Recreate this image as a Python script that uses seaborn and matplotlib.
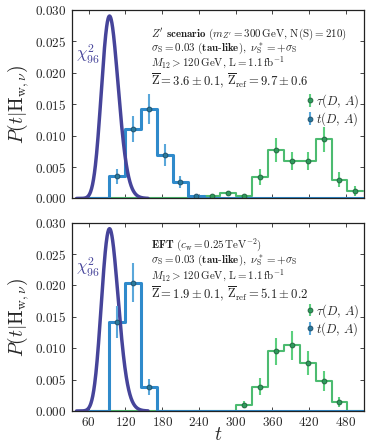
import math
import numpy as np
import matplotlib
matplotlib.use("Agg")
import matplotlib.pyplot as plt
import seaborn as sns

# bin edges (26 wide) shared by both panels
edges = [41, 67, 93, 119, 145, 171, 197, 223, 249, 275, 301, 327, 353, 379, 405, 431, 457, 483, 509]
centers = [(a + b) / 2 for a, b in zip(edges[:-1], edges[1:])]

# top panel: Z' scenario
zp_t = [0, 0, 0.0035, 0.0111, 0.0142, 0.0069, 0.0026, 0.0004, 0, 0, 0, 0, 0, 0, 0, 0, 0, 0]
zp_t_err = [0, 0, 0.0012, 0.0021, 0.0024, 0.0018, 0.0010, 0.0002, 0, 0, 0, 0, 0, 0, 0, 0, 0, 0]
zp_tau = [0, 0, 0, 0, 0, 0, 0, 0, 0.0004, 0.0009, 0.0004, 0.0034, 0.0077, 0.0060, 0.0060, 0.0094, 0.0030, 0.0012]
zp_tau_err = [0, 0, 0, 0, 0, 0, 0, 0, 0.0002, 0.0003, 0.0002, 0.0013, 0.0019, 0.0014, 0.0014, 0.0020, 0.0012, 0.0008]

# bottom panel: EFT
eft_t = [0, 0, 0.0142, 0.0204, 0.0038, 0, 0, 0, 0, 0, 0, 0, 0, 0, 0, 0, 0, 0]
eft_t_err = [0, 0, 0.0026, 0.0031, 0.0013, 0, 0, 0, 0, 0, 0, 0, 0, 0, 0, 0, 0, 0]
eft_tau = [0, 0, 0, 0, 0, 0, 0, 0, 0, 0, 0.0010, 0.0039, 0.0095, 0.0105, 0.0076, 0.0048, 0.0014, 0]
eft_tau_err = [0, 0, 0, 0, 0, 0, 0, 0, 0, 0, 0.0006, 0.0013, 0.0022, 0.0023, 0.0019, 0.0016, 0.0008, 0]

dof = 96
yticks = [0.0, 0.005, 0.010, 0.015, 0.020, 0.025, 0.030]
xticks = [60, 120, 180, 240, 300, 360, 420, 480]

texts_top = [r"$Z'$ $\mathbf{scenario}$ $(m_{Z'}=300\,\mathrm{GeV},\,\mathrm{N(S)}=210)$",
             r"$\sigma_\mathrm{S}=0.03$ $\mathbf{(tau\text{-}like)},$ $\nu^*_\mathrm{S}=+\sigma_\mathrm{S}$",
             r"$M_{12}>120\,\mathrm{GeV},\,\mathrm{L}=1.1\,\mathrm{fb}^{-1}$",
             r"$\overline{\mathrm{Z}}=3.6\pm0.1,\,\overline{\mathrm{Z}}_\mathrm{ref}=9.7\pm0.6$"]
texts_bot = [r"$\mathbf{EFT}$ $(c_\mathrm{w}=0.25\,\mathrm{TeV}^{-2})$",
             r"$\sigma_\mathrm{S}=0.03$ $\mathbf{(tau\text{-}like)},$ $\nu^*_\mathrm{S}=+\sigma_\mathrm{S}$",
             r"$M_{12}>120\,\mathrm{GeV},\,\mathrm{L}=1.1\,\mathrm{fb}^{-1}$",
             r"$\overline{\mathrm{Z}}=1.9\pm0.1,\,\overline{\mathrm{Z}}_\mathrm{ref}=5.1\pm0.2$"]

sns.set_style("ticks")
plt.rcParams["mathtext.fontset"] = "cm"
plt.rcParams["font.family"] = ["DejaVu Serif"]
plt.rcParams["xtick.direction"] = "in"
plt.rcParams["ytick.direction"] = "in"

BLUE = "#2f8acb"
BLUE_ERR = "#5aa7da"
BLUE_PT = "#2a7a9c"
GREEN = "#4cbb70"
GREEN_ERR = "#5ccf7e"
GREEN_PT = "#2f9a5c"
PURPLE = "#46449a"

# chi2 pdf for the reference curve
chi_x = np.linspace(40, 157, 300)
chi_y = np.exp((dof / 2 - 1) * np.log(chi_x) - chi_x / 2 - (dof / 2) * math.log(2) - math.lgamma(dof / 2))

fig = plt.figure(figsize=(3.71, 4.45), dpi=100)
ax1 = fig.add_axes([0.193, 0.554, 0.788, 0.4235])
ax2 = fig.add_axes([0.193, 0.0764, 0.788, 0.4232])


def panel(ax, t_vals, t_err, tau_vals, tau_err, lines, ys, leg_y):
    sns.histplot(x=centers, weights=tau_vals, bins=edges, element="step", fill=False,
                 color=GREEN, linewidth=1.5, ax=ax)
    sns.histplot(x=centers, weights=t_vals, bins=edges, element="step", fill=False,
                 color=BLUE, linewidth=2.2, ax=ax)
    sns.lineplot(x=chi_x, y=chi_y, color=PURPLE, linewidth=2.5, ax=ax)

    tc = [c for c, v in zip(centers, tau_vals) if v > 0]
    tv = [v for v in tau_vals if v > 0]
    te = [e for e, v in zip(tau_err, tau_vals) if v > 0]
    bc = [c for c, v in zip(centers, t_vals) if v > 0]
    bv = [v for v in t_vals if v > 0]
    be = [e for e, v in zip(t_err, t_vals) if v > 0]
    h1 = ax.errorbar(tc, tv, yerr=te, fmt="o", ms=3.5, color=GREEN_PT, mec="#1f5f3a", mew=0.6,
                     ecolor=GREEN_ERR, elinewidth=1.5, capsize=0, label=r"$\tau(D,\,A)$")
    h2 = ax.errorbar(bc, bv, yerr=be, fmt="o", ms=3.5, color=BLUE_PT, mec="#1d4a66", mew=0.6,
                     ecolor=BLUE_ERR, elinewidth=1.5, capsize=0, label=r"$t(D,\,A)$")

    ax.text(58, 0.0229, r"$\chi^2_{96}$", color=PURPLE, fontsize=12, ha="center", va="center")
    for i, (s, y) in enumerate(zip(lines, ys)):
        ax.text(0.27, y, s, transform=ax.transAxes, fontsize=7.9 if i < 3 else 9.1,
                va="center", ha="left", color="#222222")
    ax.legend(handles=[h1, h2], loc="upper right", bbox_to_anchor=(1.015, leg_y), frameon=False,
              handlelength=0.5, handletextpad=0.3, labelspacing=0.05, fontsize=9, borderpad=0.2)

    ax.set_xlim(32, 510)
    ax.set_ylim(0, 0.030)
    ax.set_yticks(yticks)
    ax.set_yticklabels([r"$\mathbf{%.3f}$" % v for v in yticks], fontsize=9.5)
    ax.set_xticks(xticks)
    ax.tick_params(top=True, right=True, length=3, width=0.6)
    ax.set_ylabel(r"$P(t|\mathrm{H}_{\mathrm{w},\nu})$", fontsize=14, labelpad=3)
    for sp in ax.spines.values():
        sp.set_linewidth(0.9)
        sp.set_color("#222222")


panel(ax1, zp_t, zp_t_err, zp_tau, zp_tau_err, texts_top, [0.872, 0.797, 0.722, 0.622], 0.61)
panel(ax2, eft_t, eft_t_err, eft_tau, eft_tau_err, texts_bot, [0.885, 0.800, 0.722, 0.622], 0.625)

ax1.set_xticklabels([])
ax1.set_xlabel("")
ax2.set_xticklabels([r"$\mathbf{%d}$" % v for v in xticks], fontsize=9.5)
ax2.set_xlabel(r"$t$", fontsize=14, labelpad=-2)

fig.savefig("out.png", dpi=100)
